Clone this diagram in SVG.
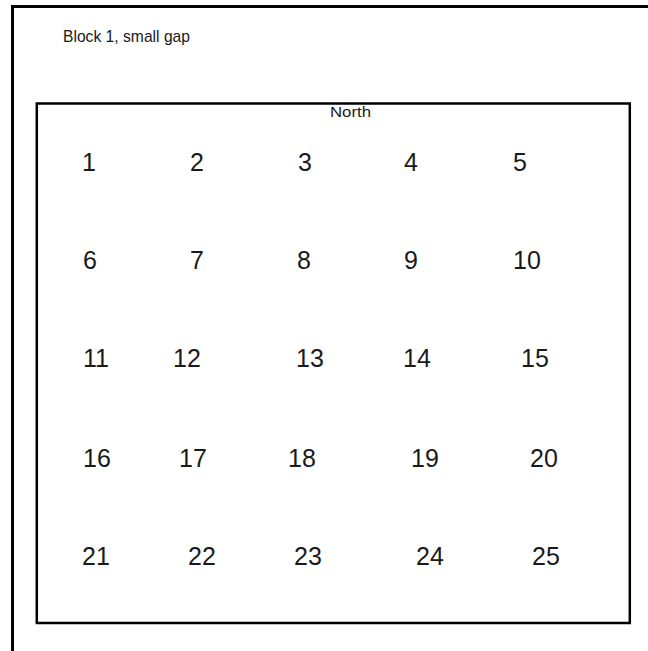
<svg xmlns="http://www.w3.org/2000/svg" width="648" height="651" viewBox="0 0 648 651">
  <style>
    .frame { fill: none; stroke: #000; stroke-width: 3; }
    .box { fill: none; stroke: #000; stroke-width: 2.5; }
    .title { font-family: "Liberation Sans", Arial, sans-serif; font-size: 17px; fill: #1a1a1a; }
    .north { font-family: "Liberation Sans", Arial, sans-serif; font-size: 14px; fill: #1a1a1a; }
    .num { font-family: "Liberation Sans", Arial, sans-serif; font-size: 25px; fill: #1a1a1a; }
  </style>
  <rect width="648" height="651" fill="#fff"/>
  <g id="frame">
    <path class="frame" d="M12.5 651 V6.5 H648"/>
  </g>
  <g id="title">
    <text class="title" x="63" y="42" textLength="127" lengthAdjust="spacingAndGlyphs">Block 1, small gap</text>
  </g>
  <g id="block">
    <rect class="box" x="36.8" y="103.5" width="593" height="519.5"/>
    <text class="north" x="330" y="116.5" textLength="41" lengthAdjust="spacingAndGlyphs">North</text>
  </g>
  <g id="plots">
    <g id="p1"><text class="num" x="82" y="171">1</text></g>
    <g id="p2"><text class="num" x="190" y="171">2</text></g>
    <g id="p3"><text class="num" x="298" y="171">3</text></g>
    <g id="p4"><text class="num" x="404" y="171">4</text></g>
    <g id="p5"><text class="num" x="513" y="171">5</text></g>

    <g id="p6"><text class="num" x="83" y="269">6</text></g>
    <g id="p7"><text class="num" x="190" y="269">7</text></g>
    <g id="p8"><text class="num" x="297" y="269">8</text></g>
    <g id="p9"><text class="num" x="404" y="269">9</text></g>
    <g id="p10"><text class="num" x="513" y="269">10</text></g>

    <g id="p11"><text class="num" x="83" y="367">11</text></g>
    <g id="p12"><text class="num" x="173" y="367">12</text></g>
    <g id="p13"><text class="num" x="296" y="367">13</text></g>
    <g id="p14"><text class="num" x="403" y="367">14</text></g>
    <g id="p15"><text class="num" x="521" y="367">15</text></g>

    <g id="p16"><text class="num" x="83" y="467">16</text></g>
    <g id="p17"><text class="num" x="179" y="467">17</text></g>
    <g id="p18"><text class="num" x="288" y="467">18</text></g>
    <g id="p19"><text class="num" x="411" y="467">19</text></g>
    <g id="p20"><text class="num" x="530" y="467">20</text></g>

    <g id="p21"><text class="num" x="82" y="565">21</text></g>
    <g id="p22"><text class="num" x="188" y="565">22</text></g>
    <g id="p23"><text class="num" x="294" y="565">23</text></g>
    <g id="p24"><text class="num" x="416" y="565">24</text></g>
    <g id="p25"><text class="num" x="532" y="565">25</text></g>
  </g>
</svg>
